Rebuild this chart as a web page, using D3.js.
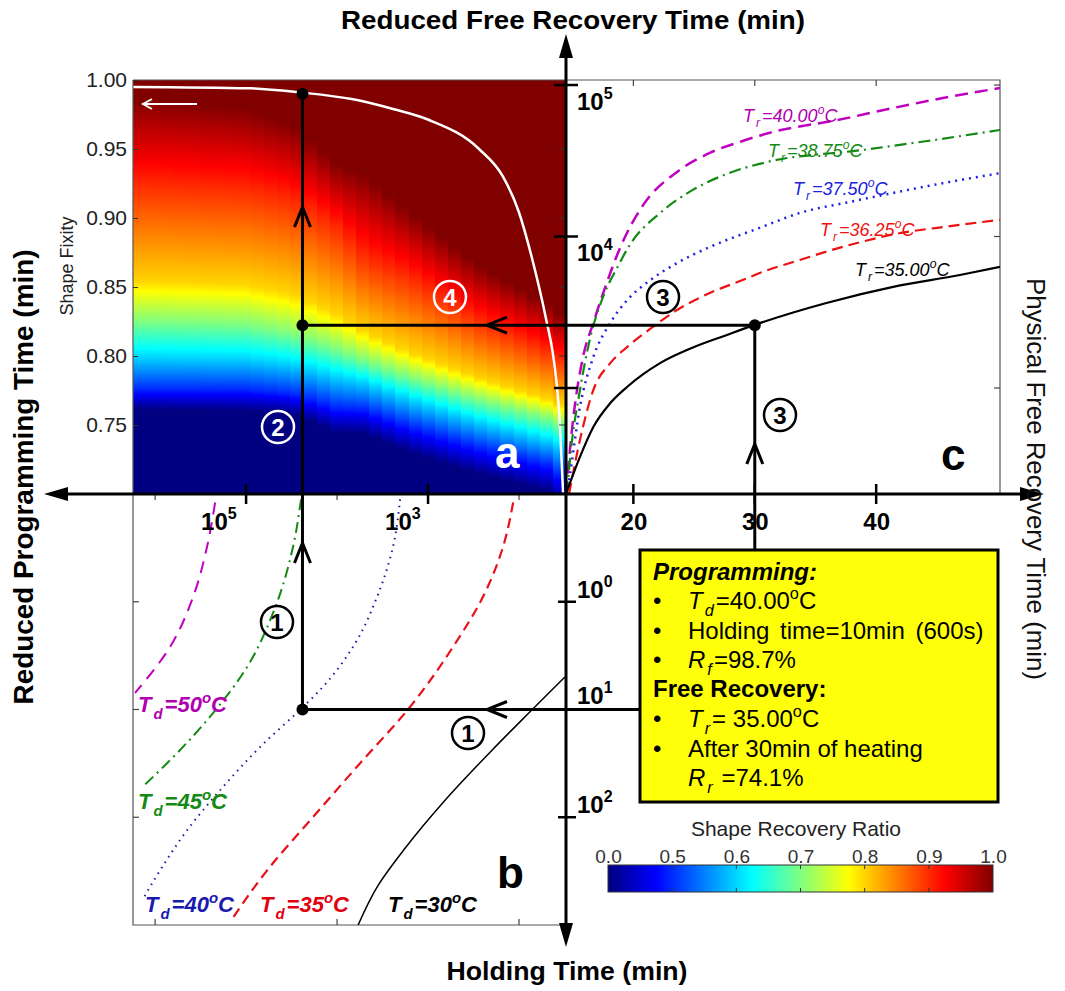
<!DOCTYPE html>
<html>
<head>
<meta charset="utf-8">
<script src="https://cdn.jsdelivr.net/npm/d3@7"></script>
<style>
  body { margin: 0; background: #fff; }
  svg { display: block; }
  text { font-family: 'Liberation Sans', Arial, sans-serif; }
</style>
</head>
<body>
<svg id="chart" width="1065" height="991"></svg>
<script>
// ---------- data ----------

// panel a: shape recovery ratio map, sampled at these holding times (min)
var heatHold = [1e6, 1e5, 3e4, 1e4, 5e3, 1.5e3, 300, 50, 30];
// shape fixity where the colour reaches each recovery-ratio level
var heatLevels = [1.0, 0.9, 0.8, 0.7, 0.6, 0.5, 0.0];
var rfAt100 = [0.986, 0.980, 0.968, 0.939, 0.932, 0.903, 0.867, 0.838, 0.827];
var rfAt90  = [0.924, 0.921, 0.913, 0.893, 0.872, 0.856, 0.827, 0.804, 0.794];
var rfAt80  = [0.854, 0.852, 0.845, 0.830, 0.818, 0.802, 0.785, 0.769, 0.762];
var rfAt70  = [0.825, 0.823, 0.816, 0.805, 0.797, 0.784, 0.769, 0.755, 0.749];
var rfAt60  = [0.799, 0.798, 0.794, 0.785, 0.781, 0.768, 0.753, 0.739, 0.733];
var rfAt50  = [0.776, 0.776, 0.773, 0.763, 0.762, 0.749, 0.735, 0.722, 0.711];
var rfAt0   = [0.761, 0.760, 0.758, 0.744, 0.744, 0.729, 0.715, 0.702, 0.690];

// white line in panel a
var isoHold = [1.75e6, 9.04e4, 2.55e4, 6670, 2430, 975, 275, 150, 100, 70.2, 50.5, 41.2, 36.3, 32.8];
var isoFix  = [0.995, 0.994, 0.991, 0.986, 0.979, 0.971, 0.950, 0.930, 0.904, 0.868, 0.827, 0.796, 0.760, 0.701];

// panel b: holding time (min) vs reduced programming time (min)
var td50Hold = [2.19e5, 2.69e5, 3.82e5, 6.84e5, 1.66e6];
var td50Prog = [0.12, 0.31, 0.90, 2.62, 7.03];
var td45Hold = [24900, 30500, 50500, 97500, 2.31e5, 6.34e5, 1.39e6];
var td45Prog = [0.112, 0.31, 1.27, 4.03, 10.8, 27.7, 52.6];
var td40Hold = [2030, 2430, 3630, 6670, 15400, 23700, 70200, 1.93e5, 4.45e5, 8.81e5, 1.39e6];
var td40Prog = [0.112, 0.31, 0.90, 2.62, 6.59, 9.48, 22.3, 56.1, 132, 311, 592];
var td35Hold = [116, 150, 249, 531, 1580, 5580, 19800, 58700, 1.39e5];
var td35Prog = [0.12, 0.31, 0.90, 2.62, 9.48, 31.5, 107, 311, 851];
var td30Hold = [31.3, 75.7, 208, 650, 1790, 3540, 5870];
var td30Prog = [4.99, 10.5, 24.9, 69.5, 194, 429, 1000];

// panel c: physical vs reduced free recovery time (min)
var tr35Phys = [14.45, 15.6, 16.7, 18.1, 19.5, 22.2, 24.9, 27.7, 30.0, 35.9, 41.4, 46.9, 50.2];
var tr35Red  = [200, 351, 553, 796, 1020, 1460, 1850, 2240, 2610, 3640, 4650, 5570, 6300];
var tr3625Phys = [14.7, 15.6, 16.7, 18.1, 19.5, 21.6, 23.6, 26.3, 29.0, 30.4, 33.7, 37.8, 41.9, 46.1, 50.2];
var tr3625Red  = [200, 454, 970, 1460, 1870, 2530, 3270, 4240, 5160, 5740, 7000, 8790, 10500, 11700, 12900];
var tr375Phys = [14.53, 14.8, 15.6, 16.7, 18.1, 19.5, 21.4, 23.6, 26.3, 30.4, 33.7, 37.8, 41.0, 45.5, 50.2];
var tr375Red  = [200, 275, 750, 1600, 2690, 3810, 5160, 6680, 8530, 11400, 14300, 16900, 19100, 22500, 26200];
var tr3875Phys = [14.53, 14.8, 15.6, 16.4, 17.5, 18.7, 19.7, 22.2, 24.9, 27.7, 31.0, 38.8, 44.2, 50.2];
var tr3875Red  = [200, 351, 970, 2070, 3990, 6300, 8790, 14300, 20300, 25900, 31000, 37200, 42700, 50500];
var tr40Phys = [14.45, 15.0, 15.85, 16.7, 17.8, 18.9, 20.8, 23.6, 26.3, 29.0, 31.5, 36.8, 41.4, 45.5, 50.2];
var tr40Red  = [200, 587, 1600, 2690, 4930, 8400, 16100, 26700, 35600, 42700, 49000, 58700, 70500, 82000, 95500];

// worked example (operating point)
var opHold = 2.4e4, opFix = 0.99, opProg = 10, opRed = 2600, opPhys = 30;

// tick values
var fixTicks = [0.75, 0.80, 0.85, 0.90, 0.95, 1.00];
var physTicks = [20, 30, 40];
var cbValues = [0.0, 0.5, 0.6, 0.7, 0.8, 0.9, 1.0];

// ---------- drawing ----------
var svg = d3.select('#chart');
svg.append('rect').attr('width', 1065).attr('height', 991).attr('fill', '#fff');

var holdX = d3.scaleLog().domain([1.75e6, 30.45]).range([133, 566]);
var fixY = d3.scaleLinear().domain([0.70, 1.00]).range([494, 80]);
var progY = d3.scaleLog().domain([0.1, 1000]).range([494, 925]);
var physX = d3.scaleLinear().domain([14.45, 50.2]).range([566, 1000]);
var redY = d3.scaleLog().domain([199.7, 1.079e5]).range([494, 80]);
var cbPos = d3.scaleLinear().domain(cbValues).range(d3.range(7).map(function (i) { return i / 6; }));
var cbX = d3.scaleLinear().domain(cbValues).range(d3.range(7).map(function (i) { return 608 + i * 385 / 6; }));

function jet(t) {
    var c = function (v) { return Math.round(255 * Math.max(0, Math.min(1, v))); };
    return 'rgb(' + c(1.5 - Math.abs(4 * t - 3)) + ',' + c(1.5 - Math.abs(4 * t - 2)) + ',' + c(1.5 - Math.abs(4 * t - 1)) + ')';
}

var levelRf = [rfAt100, rfAt90, rfAt80, rfAt70, rfAt60, rfAt50, rfAt0];
var lx = heatHold.map(Math.log10);
function levelsAt(h) {
    var lh = Math.log10(h), i = 0;
    while (i < lx.length - 2 && lh < lx[i + 1]) i++;
    var f = Math.max(0, Math.min(1, (lh - lx[i]) / (lx[i + 1] - lx[i])));
    return levelRf.map(function (a) { return a[i] + (a[i + 1] - a[i]) * f; });
}
function colourPos(rf, lv) {
    if (rf >= lv[0]) return 1;
    if (rf <= lv[6]) return 0;
    for (var k = 0; k < 6; k++) {
        if (rf >= lv[k + 1]) {
            var f = (rf - lv[k + 1]) / (lv[k] - lv[k + 1]);
            var p0 = cbPos(heatLevels[k + 1]), p1 = cbPos(heatLevels[k]);
            return p0 + f * (p1 - p0);
        }
    }
    return 0;
}

// heat map (panel a) painted on a canvas, column by column
var heatW = 433, heatH = 414, nCols = 33;
var canvas = document.createElement('canvas');
canvas.width = heatW; canvas.height = heatH;
var ctx = canvas.getContext('2d');
var colW = heatW / nCols;
for (var c = 0; c < nCols; c++) {
    var xa = Math.round(c * colW), xb = Math.round((c + 1) * colW);
    var lv = levelsAt(holdX.invert(133 + (c + 0.5) * colW));
    for (var r = 0; r < heatH; r++) {
        ctx.fillStyle = jet(colourPos(fixY.invert(80 + r + 0.5), lv));
        ctx.fillRect(xa, r, xb - xa, 1);
    }
}
svg.append('image').attr('x', 133).attr('y', 80).attr('width', heatW).attr('height', heatH)
    .attr('preserveAspectRatio', 'none').attr('href', canvas.toDataURL());

var defs = svg.append('defs');
defs.append('clipPath').attr('id', 'clipA').append('rect').attr('x', 133).attr('y', 80).attr('width', 433).attr('height', 414);
defs.append('clipPath').attr('id', 'clipB').append('rect').attr('x', 133).attr('y', 494).attr('width', 433).attr('height', 431);
defs.append('clipPath').attr('id', 'clipC').append('rect').attr('x', 566).attr('y', 80).attr('width', 434).attr('height', 414);

var lineX = d3.line().curve(d3.curveMonotoneX);
var lineY = d3.line().curve(d3.curveMonotoneY);
function curve(g, gen, xs, ys, sx, sy, color, w, dash) {
    var pts = xs.map(function (v, i) { return [sx(v), sy(ys[i])]; });
    g.append('path').attr('d', gen(pts)).attr('fill', 'none')
        .attr('stroke', color).attr('stroke-width', w).attr('stroke-dasharray', dash || null);
}

// white line in a
var gA = svg.append('g').attr('clip-path', 'url(#clipA)');
curve(gA, lineX, isoHold, isoFix, holdX, fixY, '#fff', 2.5);
// small white arrow
gA.append('path').attr('d', 'M197,104H143M152,99L143,104L152,109').attr('fill', 'none')
    .attr('stroke', '#fff').attr('stroke-width', 2);

// frames
var frame = svg.append('g').attr('stroke', '#555').attr('stroke-width', 1.2).attr('fill', 'none');
frame.append('path').attr('d', 'M133,80H1000V494');
frame.append('path').attr('d', 'M133,80V925H566');

// panel b curves
var gB = svg.append('g').attr('clip-path', 'url(#clipB)');
curve(gB, lineY, td50Hold, td50Prog, holdX, progY, '#c000c0', 2, '12,8');
curve(gB, lineY, td45Hold, td45Prog, holdX, progY, '#138a13', 2, '11,5,2,5');
curve(gB, lineY, td40Hold, td40Prog, holdX, progY, '#1a1a9a', 2, '1.5,5');
curve(gB, lineY, td35Hold, td35Prog, holdX, progY, '#e8101a', 2.2, '10,6');
curve(gB, lineY, td30Hold, td30Prog, holdX, progY, '#000', 1.5);

// panel c curves
var gC = svg.append('g').attr('clip-path', 'url(#clipC)');
curve(gC, lineX, tr40Phys, tr40Red, physX, redY, '#c000c0', 2.5, '13,7');
curve(gC, lineX, tr3875Phys, tr3875Red, physX, redY, '#138a13', 2.2, '12,5,2,5');
curve(gC, lineX, tr375Phys, tr375Red, physX, redY, '#2020e0', 2.5, '2,5');
curve(gC, lineX, tr3625Phys, tr3625Red, physX, redY, '#ee1111', 2.2, '11,6');
curve(gC, lineX, tr35Phys, tr35Red, physX, redY, '#000', 2.2);

// axis a (shape fixity)
var axA = svg.append('g').attr('transform', 'translate(133,0)')
    .call(d3.axisLeft(fixY).tickValues(fixTicks).tickFormat(d3.format('.2f')).tickSize(-5).tickPadding(6));
axA.select('.domain').remove();
axA.selectAll('text').attr('font-size', 21).attr('fill', '#222').style('font-family', "'Liberation Sans', Arial, sans-serif");
axA.selectAll('line').attr('stroke', '#333');
svg.append('g').selectAll('line').data(fixTicks.slice(0, 5)).join('line')
    .attr('x1', 559).attr('x2', 566).attr('y1', fixY).attr('y2', fixY).attr('stroke', '#333');

// small frame ticks
var tk = svg.append('g').attr('stroke', '#444').attr('stroke-width', 1.2);
[1e6, 1e4, 1e2].forEach(function (v) {
    tk.append('line').attr('x1', holdX(v)).attr('x2', holdX(v)).attr('y1', 494).attr('y2', 500);
    tk.append('line').attr('x1', holdX(v)).attr('x2', holdX(v)).attr('y1', 925).attr('y2', 919);
});
[1, 10, 100].forEach(function (v) {
    tk.append('line').attr('x1', 133).attr('x2', 139).attr('y1', progY(v)).attr('y2', progY(v));
});
physTicks.forEach(function (v) {
    tk.append('line').attr('x1', physX(v)).attr('x2', physX(v)).attr('y1', 80).attr('y2', 86);
});
[1e5, 1e4, 1e3].forEach(function (v) {
    tk.append('line').attr('x1', 1000).attr('x2', 994).attr('y1', redY(v)).attr('y2', redY(v));
});

// main cross axes
var ax = svg.append('g').attr('stroke', '#000').attr('stroke-width', 3);
ax.append('line').attr('x1', 50).attr('x2', 1036).attr('y1', 494).attr('y2', 494);
ax.append('line').attr('x1', 566).attr('x2', 566).attr('y1', 42).attr('y2', 938);
var heads = svg.append('g').attr('fill', '#000');
heads.append('path').attr('d', 'M566,34L559,58L573,58Z');
heads.append('path').attr('d', 'M566,947L559,923L573,923Z');
heads.append('path').attr('d', 'M44,494L68,487L68,501Z');
heads.append('path').attr('d', 'M1044,494L1020,487L1020,501Z');

// crossing ticks on main axes
var ct = svg.append('g').attr('stroke', '#000').attr('stroke-width', 2.5);
[1e5, 1e3].forEach(function (v) {
    ct.append('line').attr('x1', holdX(v)).attr('x2', holdX(v)).attr('y1', 484).attr('y2', 504);
});
physTicks.forEach(function (v) {
    ct.append('line').attr('x1', physX(v)).attr('x2', physX(v)).attr('y1', 484).attr('y2', 504);
});
[1e5, 1e4, 1e3].forEach(function (v) {
    ct.append('line').attr('x1', 554).attr('x2', 578).attr('y1', redY(v)).attr('y2', redY(v));
});
[1, 10, 100].forEach(function (v) {
    ct.append('line').attr('x1', 558).attr('x2', 576).attr('y1', progY(v)).attr('y2', progY(v));
});

// tick labels
function powLabel(x, y, base, exp) {
    var t = svg.append('text').attr('x', x).attr('y', y).attr('font-weight', 'bold').attr('font-size', 24).attr('fill', '#000');
    t.append('tspan').text(base);
    t.append('tspan').attr('dy', -11).attr('font-size', 16).text(exp);
}
powLabel(holdX(1e5) - 45, 530, '10', '5');
powLabel(holdX(1e3) - 43, 530, '10', '3');
powLabel(577, redY(1e5) + 25, '10', '5');
powLabel(577, redY(1e4) + 24, '10', '4');
powLabel(577, progY(1) - 4, '10', '0');
powLabel(577, progY(10) - 6, '10', '1');
powLabel(577, progY(100) - 4, '10', '2');

var axC = svg.append('g').attr('transform', 'translate(0,494)')
    .call(d3.axisBottom(physX).tickValues(physTicks).tickSize(0).tickPadding(19));
axC.select('.domain').remove();
axC.selectAll('text').attr('font-size', 24).attr('font-weight', 'bold').attr('fill', '#000')
    .style('font-family', "'Liberation Sans', Arial, sans-serif");

// guide lines of the worked example
var gl = svg.append('g').attr('stroke', '#000').attr('stroke-width', 3).attr('fill', 'none');
gl.append('line').attr('x1', holdX(opHold)).attr('x2', holdX(opHold)).attr('y1', progY(opProg)).attr('y2', fixY(opFix));
gl.append('line').attr('x1', holdX(opHold)).attr('x2', physX(opPhys)).attr('y1', redY(opRed)).attr('y2', redY(opRed));
gl.append('line').attr('x1', physX(opPhys)).attr('x2', physX(opPhys)).attr('y1', redY(opRed)).attr('y2', 552);
gl.append('line').attr('x1', holdX(opHold)).attr('x2', 642).attr('y1', progY(opProg)).attr('y2', progY(opProg));
function chevron(x, y, dir) {
    var d = dir === 'up' ? 'M' + (x - 8) + ',' + (y + 20) + 'L' + x + ',' + y + 'L' + (x + 8) + ',' + (y + 20)
        : 'M' + (x + 20) + ',' + (y - 8) + 'L' + x + ',' + y + 'L' + (x + 20) + ',' + (y + 8);
    gl.append('path').attr('d', d);
}
chevron(holdX(opHold), 207, 'up');
chevron(holdX(opHold), 543, 'up');
chevron(487, redY(opRed), 'left');
chevron(487, progY(opProg), 'left');
chevron(physX(opPhys), 444, 'up');

var dots = [[holdX(opHold), fixY(opFix)], [holdX(opHold), redY(opRed)], [physX(opPhys), redY(opRed)], [holdX(opHold), progY(opProg)]];
svg.append('g').selectAll('circle').data(dots).join('circle')
    .attr('cx', function (d) { return d[0]; }).attr('cy', function (d) { return d[1]; }).attr('r', 6).attr('fill', '#000');

// rich text helper: parts with sub/sup/italic/bold
function rich(x, y, parts, fs, color, extra) {
    var t = svg.append('text').attr('x', x).attr('y', y).attr('font-size', fs).attr('fill', color);
    if (extra) extra(t);
    var shift = 0, prevSub = false;
    parts.forEach(function (p) {
        var s = t.append('tspan').text(p.t);
        var target = p.sub ? fs * 0.3 : (p.sup ? -fs * 0.42 : 0);
        if (target - shift !== 0) s.attr('dy', target - shift);
        shift = target;
        if (p.sub) s.attr('dx', 2);
        else if (prevSub) s.attr('dx', 2);
        prevSub = !!p.sub;
        if (p.sub || p.sup) s.attr('font-size', fs * 0.68);
        if (p.i) s.attr('font-style', 'italic');
        if (p.b) s.attr('font-weight', 'bold');
    });
    return t;
}
function tempParts(sym, sub, val) {
    return [{ t: sym }, { t: sub, sub: true }, { t: val }, { t: 'o', sup: true }, { t: 'C' }];
}
var boldItalic = function (t) { t.attr('font-weight', 'bold').attr('font-style', 'italic'); };
var italic = function (t) { t.attr('font-style', 'italic'); };

// Td labels (panel b)
rich(138, 712, tempParts('T', 'd', '=50'), 22, '#b000b0', boldItalic);
rich(138, 809, tempParts('T', 'd', '=45'), 22, '#138a13', boldItalic);
rich(145, 912, tempParts('T', 'd', '=40'), 22, '#1a1ab0', boldItalic);
rich(260, 912, tempParts('T', 'd', '=35'), 22, '#e00010', boldItalic);
rich(388, 912, tempParts('T', 'd', '=30'), 22, '#000', boldItalic);

// Tr labels (panel c)
rich(743, 122, tempParts('T', 'r', '=40.00'), 18, '#b000b0', italic);
rich(768, 157, tempParts('T', 'r', '=38.75'), 18, '#138a13', italic);
rich(793, 195, tempParts('T', 'r', '=37.50'), 18, '#2020e0', italic);
rich(820, 236, tempParts('T', 'r', '=36.25'), 18, '#ee1111', italic);
rich(855, 276, tempParts('T', 'r', '=35.00'), 18, '#000', italic);

// circled step numbers
var steps = [[277, 622, '1', '#000'], [468, 733, '1', '#000'], [278, 427, '2', '#fff'],
             [450, 297, '4', '#fff'], [663, 297, '3', '#000'], [780, 415, '3', '#000']];
var sg = svg.append('g').selectAll('g').data(steps).join('g')
    .attr('transform', function (d) { return 'translate(' + d[0] + ',' + d[1] + ')'; });
sg.append('circle').attr('r', 16).attr('fill', 'none').attr('stroke', function (d) { return d[3]; }).attr('stroke-width', 2.5);
sg.append('text').attr('text-anchor', 'middle').attr('y', 8.5).attr('font-size', 24).attr('font-weight', 'bold')
    .attr('fill', function (d) { return d[3]; }).text(function (d) { return d[2]; });

// panel letters
svg.append('text').attr('x', 495).attr('y', 468).attr('font-size', 44).attr('font-weight', 'bold').attr('fill', '#fff').text('a');
svg.append('text').attr('x', 497).attr('y', 888).attr('font-size', 44).attr('font-weight', 'bold').attr('fill', '#000').text('b');
svg.append('text').attr('x', 941).attr('y', 470).attr('font-size', 44).attr('font-weight', 'bold').attr('fill', '#000').text('c');

// axis titles
svg.append('text').attr('x', 573).attr('y', 29).attr('text-anchor', 'middle').attr('font-size', 25).attr('font-weight', 'bold')
    .attr('textLength', 464).attr('lengthAdjust', 'spacingAndGlyphs').text('Reduced Free Recovery Time (min)');
svg.append('text').attr('x', 567).attr('y', 980).attr('text-anchor', 'middle').attr('font-size', 25).attr('font-weight', 'bold')
    .attr('textLength', 241).attr('lengthAdjust', 'spacingAndGlyphs').text('Holding Time (min)');
svg.append('text').attr('transform', 'translate(33,477) rotate(-90)').attr('text-anchor', 'middle').attr('font-size', 27)
    .attr('font-weight', 'bold').attr('textLength', 455).attr('lengthAdjust', 'spacingAndGlyphs').text('Reduced Programming Time (min)');
svg.append('text').attr('transform', 'translate(1027,479) rotate(90)').attr('text-anchor', 'middle').attr('font-size', 26)
    .attr('fill', '#111').attr('textLength', 402).attr('lengthAdjust', 'spacingAndGlyphs').text('Physical Free Recovery Time (min)');
svg.append('text').attr('transform', 'translate(73,266) rotate(-90)').attr('text-anchor', 'middle').attr('font-size', 18)
    .attr('fill', '#222').text('Shape Fixity');

// yellow info box
svg.append('rect').attr('x', 640).attr('y', 550).attr('width', 358).attr('height', 252)
    .attr('fill', '#ffff0a').attr('stroke', '#000').attr('stroke-width', 3);
var bx = 653, tx = 688, fs = 24;
rich(bx, 580, [{ t: 'Programming:' }], fs, '#000', boldItalic);
var bulletRows = [
    [609, [{ t: 'T', i: 1 }, { t: 'd', sub: 1, i: 1 }, { t: '=40.00' }, { t: 'o', sup: 1 }, { t: 'C' }]],
    [639, [{ t: 'Holding time=10min (600s)' }]],
    [668, [{ t: 'R', i: 1 }, { t: 'f', sub: 1, i: 1 }, { t: '=98.7%' }]],
    [727, [{ t: 'T', i: 1 }, { t: 'r', sub: 1, i: 1 }, { t: '= 35.00' }, { t: 'o', sup: 1 }, { t: 'C' }]],
    [757, [{ t: 'After 30min of heating' }]]
];
bulletRows.forEach(function (row) {
    svg.append('text').attr('x', bx).attr('y', row[0]).attr('font-size', fs).text('\u2022');
    var t = rich(tx, row[0], row[1], fs, '#000');
    if (row[1][0].t.indexOf('Holding') === 0) t.attr('word-spacing', 4);
});
rich(bx, 697, [{ t: 'Free Recovery:' }], fs, '#000', function (t) { t.attr('font-weight', 'bold'); });
rich(tx, 786, [{ t: 'R', i: 1 }, { t: 'r', sub: 1, i: 1 }, { t: ' =74.1%' }], fs, '#000');

// colour bar
var grad = defs.append('linearGradient').attr('id', 'jetGrad').attr('x1', 0).attr('x2', 1).attr('y1', 0).attr('y2', 0);
d3.range(0, 1.0001, 0.025).forEach(function (t) {
    grad.append('stop').attr('offset', t).attr('stop-color', jet(t));
});
svg.append('rect').attr('x', 608).attr('y', 865).attr('width', 385).attr('height', 27)
    .attr('fill', 'url(#jetGrad)').attr('stroke', '#333').attr('stroke-width', 1);
var cbt = svg.append('g').attr('stroke', '#333').attr('stroke-width', 1);
cbValues.slice(1, 6).forEach(function (v) {
    cbt.append('line').attr('x1', cbX(v)).attr('x2', cbX(v)).attr('y1', 865).attr('y2', 869);
    cbt.append('line').attr('x1', cbX(v)).attr('x2', cbX(v)).attr('y1', 892).attr('y2', 888);
});
var axCb = svg.append('g').attr('transform', 'translate(0,865)')
    .call(d3.axisTop(cbX).tickValues(cbValues).tickFormat(d3.format('.1f')).tickSize(0).tickPadding(2));
axCb.select('.domain').remove();
axCb.selectAll('text').attr('font-size', 19).attr('fill', '#333').style('font-family', "'Liberation Sans', Arial, sans-serif");
svg.append('text').attr('x', 796).attr('y', 836).attr('text-anchor', 'middle').attr('font-size', 21).attr('fill', '#222')
    .text('Shape Recovery Ratio');
</script>
</body>
</html>
